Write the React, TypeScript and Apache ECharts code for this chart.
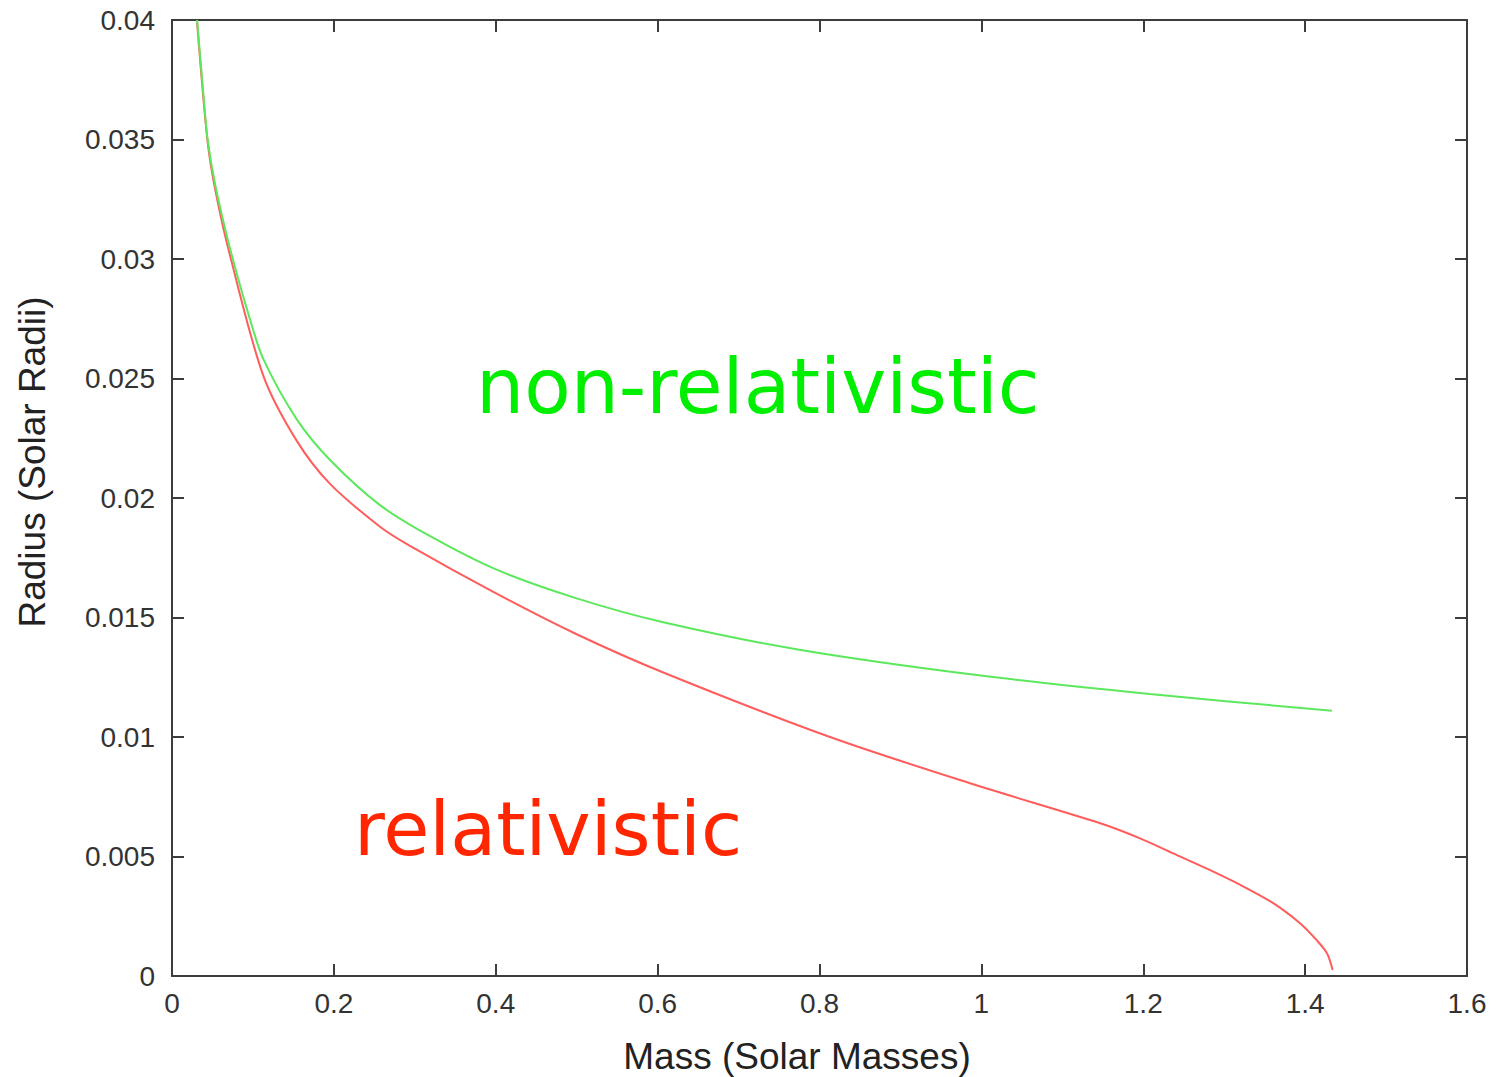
import React, { useEffect, useRef } from "react";
import * as echarts from "echarts";

// Mass (solar masses) vs radius (solar radii)
const nonRelMass = [0.031, 0.038, 0.044, 0.054, 0.072, 0.097, 0.113, 0.154, 0.195, 0.257, 0.319, 0.401, 0.5, 0.607, 0.775, 0.992, 1.208, 1.433];
const nonRelRadius = [0.04, 0.0372, 0.035, 0.033, 0.0304, 0.0274, 0.0258, 0.0233, 0.0216, 0.0197, 0.0184, 0.017, 0.0158, 0.0148, 0.01365, 0.0126, 0.0118, 0.0111];

const relMass = [0.031, 0.044, 0.054, 0.072, 0.113, 0.154, 0.195, 0.257, 0.294, 0.401, 0.5, 0.607, 0.813, 0.992, 1.146, 1.196, 1.237, 1.278, 1.32, 1.361, 1.394, 1.414, 1.427, 1.434];
const relRadius = [0.0399, 0.0349, 0.0328, 0.0301, 0.0251, 0.0224, 0.0206, 0.0188, 0.018, 0.016, 0.0143, 0.0127, 0.01, 0.008, 0.0064, 0.00576, 0.00513, 0.0045, 0.00381, 0.00304, 0.0022, 0.00151, 0.00095, 0.00025];

const xTicks = { min: 0, max: 1.6, interval: 0.2 };
const yTicks = { min: 0, max: 0.04, interval: 0.005 };

const xName = "Mass (Solar Masses)";
const yName = "Radius (Solar Radii)";
const labelNonRel = "non-relativistic";
const labelRel = "relativistic";

const AXIS_COLOR = "#3c3c3c";
const LABEL_FONT = "'Liberation Sans', Arial, Helvetica, sans-serif";
const HAND_FONT = "'Comic Sans MS', 'DejaVu Sans', sans-serif";

export default function App() {
  const ref = useRef<HTMLDivElement>(null);

  useEffect(() => {
    if (!ref.current) return;
    const chart = echarts.init(ref.current, undefined, { renderer: "svg" });

    const lineStyle = { color: AXIS_COLOR, width: 2 };
    const baseX = {
      type: "value" as const,
      ...xTicks,
      axisLine: { show: true, onZero: false, lineStyle },
      axisTick: { show: true, inside: true, length: 12, lineStyle },
      splitLine: { show: false },
    };
    const baseY = {
      type: "value" as const,
      ...yTicks,
      axisLine: { show: true, onZero: false, lineStyle },
      axisTick: { show: true, inside: true, length: 12, lineStyle },
      splitLine: { show: false },
    };

    chart.setOption({
      animation: false,
      backgroundColor: "#ffffff",
      grid: { left: 172, top: 20, right: 34, bottom: 101, containLabel: false },
      xAxis: [
        {
          ...baseX,
          position: "bottom",
          axisLabel: { show: true, fontSize: 28, color: "#333", margin: 13, fontFamily: LABEL_FONT },
        },
        { ...baseX, position: "top", axisLabel: { show: false } },
      ],
      yAxis: [
        {
          ...baseY,
          position: "left",
          axisLabel: { show: true, fontSize: 28, color: "#333", margin: 17, fontFamily: LABEL_FONT },
        },
        { ...baseY, position: "right", axisLabel: { show: false } },
      ],
      series: [
        {
          name: labelRel,
          type: "line",
          xAxisIndex: 0,
          yAxisIndex: 0,
          data: relMass.map((m, i) => [m, relRadius[i]]),
          showSymbol: false,
          smooth: 0.3,
          lineStyle: { color: "#ff5c5c", width: 2 },
          z: 2,
        },
        {
          name: labelNonRel,
          type: "line",
          xAxisIndex: 0,
          yAxisIndex: 0,
          data: nonRelMass.map((m, i) => [m, nonRelRadius[i]]),
          showSymbol: false,
          smooth: 0.3,
          lineStyle: { color: "#5ce85c", width: 2 },
          z: 3,
        },
      ],
      graphic: [
        {
          type: "text",
          x: 797,
          y: 1056,
          style: {
            text: xName,
            font: `37px ${LABEL_FONT}`,
            fill: "#222",
            textAlign: "center",
            textVerticalAlign: "middle",
          },
        },
        {
          type: "text",
          x: 32,
          y: 462,
          rotation: Math.PI / 2,
          style: {
            text: yName,
            font: `37px ${LABEL_FONT}`,
            fill: "#222",
            textAlign: "center",
            textVerticalAlign: "middle",
          },
        },
        {
          type: "text",
          x: 476,
          y: 424,
          style: {
            text: labelNonRel,
            font: `76px ${HAND_FONT}`,
            fill: "#00ee00",
            textAlign: "left",
            textVerticalAlign: "bottom",
          },
        },
        {
          type: "text",
          x: 354,
          y: 866,
          style: {
            text: labelRel,
            font: `75px ${HAND_FONT}`,
            fill: "#ff2600",
            textAlign: "left",
            textVerticalAlign: "bottom",
          },
        },
      ],
    });

    return () => chart.dispose();
  }, []);

  return (
    <div
      ref={ref}
      style={{ position: "fixed", left: 0, top: 0, width: 1501, height: 1077, background: "#fff" }}
    />
  );
}
